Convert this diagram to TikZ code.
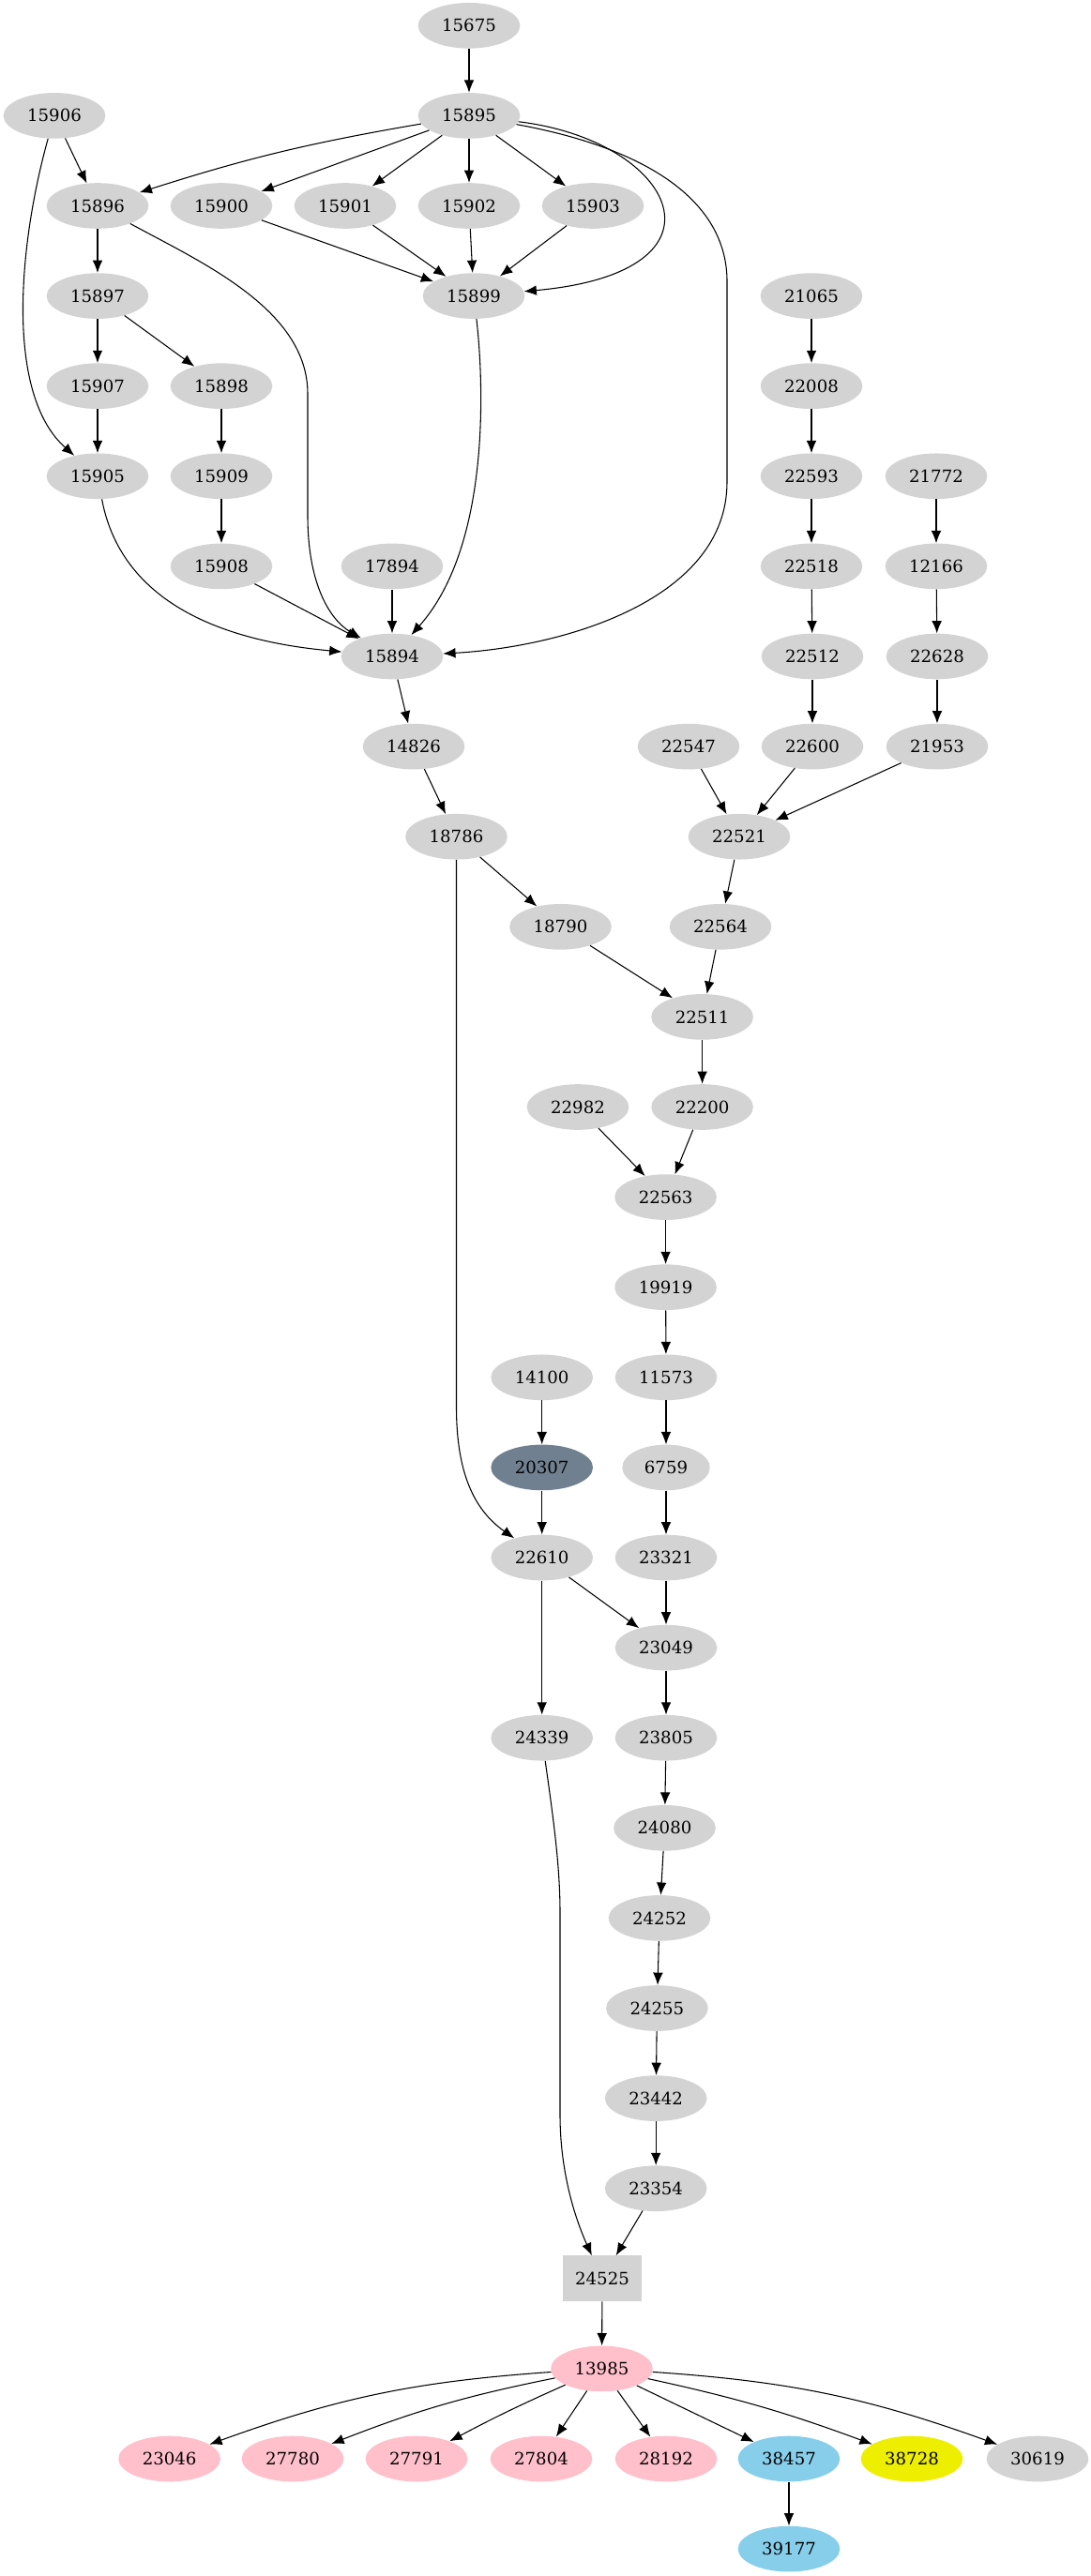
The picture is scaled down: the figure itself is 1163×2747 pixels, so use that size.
\documentclass[tikz,border=0pt]{standalone}
\usepackage{fontspec}
\setmainfont{DejaVu Serif}
\usetikzlibrary{shapes.geometric,arrows.meta}
\definecolor{ltgray}{HTML}{D3D3D3}
\definecolor{slgray}{HTML}{708090}
\definecolor{pinkish}{HTML}{FFC0CB}
\definecolor{skyish}{HTML}{87CEEB}
\definecolor{yellowish}{HTML}{EEEE00}
\tikzset{
  gnode/.style={ellipse,fill=ltgray,minimum width=81.5pt,minimum height=36.5pt,inner sep=0pt,font=\fontsize{13.6pt}{16pt}\selectfont},
  gshort/.style={gnode,minimum width=70pt},
  gbox/.style={rectangle,fill=ltgray,minimum width=63pt,minimum height=36.5pt,inner sep=0pt,font=\fontsize{13.6pt}{16pt}\selectfont},
  dep/.style={-{Latex[length=10pt,width=8pt]},line width=0.8pt}
}
\begin{document}
\begin{tikzpicture}[x=0.75pt,y=-0.75pt]
\useasboundingbox (0,0) rectangle (1163,2747);
\node[gnode] (n15675) at (500,27.3) {15675};
\node[gnode] (n15906) at (58,123.4) {15906};
\node[gnode] (n15895) at (500,123.4) {15895};
\node[gnode] (n15896) at (104,219.5) {15896};
\node[gnode] (n15900) at (236,219.5) {15900};
\node[gnode] (n15901) at (368,219.5) {15901};
\node[gnode] (n15902) at (500,219.5) {15902};
\node[gnode] (n15903) at (632,219.5) {15903};
\node[gnode] (n15897) at (104,315.6) {15897};
\node[gnode] (n15899) at (505,315.6) {15899};
\node[gnode] (n21065) at (865,315.6) {21065};
\node[gnode] (n15907) at (104,411.7) {15907};
\node[gnode] (n15898) at (236,411.7) {15898};
\node[gnode] (n22008) at (865,411.7) {22008};
\node[gnode] (n15905) at (104,507.8) {15905};
\node[gnode] (n15909) at (236,507.8) {15909};
\node[gnode] (n22593) at (865,507.8) {22593};
\node[gnode] (n21772) at (998,507.8) {21772};
\node[gnode] (n15908) at (236,603.9) {15908};
\node[gnode] (n17894) at (418,603.9) {17894};
\node[gnode] (n22518) at (865,603.9) {22518};
\node[gnode] (n12166) at (998,603.9) {12166};
\node[gnode] (n15894) at (418,700) {15894};
\node[gnode] (n22512) at (866,700) {22512};
\node[gnode] (n22628) at (999,700) {22628};
\node[gnode] (n14826) at (441,796.1) {14826};
\node[gnode] (n22547) at (734,796.1) {22547};
\node[gnode] (n22600) at (866,796.1) {22600};
\node[gnode] (n21953) at (999,796.1) {21953};
\node[gnode] (n18786) at (486.5,892.2) {18786};
\node[gnode] (n22521) at (788,892.2) {22521};
\node[gnode] (n18790) at (597.5,988.3) {18790};
\node[gnode] (n22564) at (768,988.3) {22564};
\node[gnode] (n22511) at (748.6,1084.4) {22511};
\node[gnode] (n22982) at (616,1180.5) {22982};
\node[gnode] (n22200) at (748.6,1180.5) {22200};
\node[gnode] (n22563) at (709.6,1276.6) {22563};
\node[gnode] (n19919) at (709.6,1372.7) {19919};
\node[gnode] (n14100) at (577.7,1468.8) {14100};
\node[gnode] (n11573) at (710,1468.8) {11573};
\node[gnode,fill=slgray] (n20307) at (577.7,1564.9) {20307};
\node[gshort] (n6759) at (710,1564.9) {6759};
\node[gnode] (n22610) at (577.7,1661) {22610};
\node[gnode] (n23321) at (710,1661) {23321};
\node[gnode] (n23049) at (710,1757.1) {23049};
\node[gnode] (n24339) at (577.7,1853.2) {24339};
\node[gnode] (n23805) at (710,1853.2) {23805};
\node[gnode] (n24080) at (708.5,1949.3) {24080};
\node[gnode] (n24252) at (703,2045.4) {24252};
\node[gnode] (n24255) at (700.4,2141.5) {24255};
\node[gnode] (n23442) at (699.2,2237.6) {23442};
\node[gnode] (n23354) at (699.2,2333.7) {23354};
\node[gbox] (n24525) at (642,2429.8) {24525};
\node[gnode,fill=pinkish] (n13985) at (641.5,2525.9) {13985};
\node[gnode,fill=pinkish] (n23046) at (180.6,2622) {23046};
\node[gnode,fill=pinkish] (n27780) at (312,2622) {27780};
\node[gnode,fill=pinkish] (n27791) at (444,2622) {27791};
\node[gnode,fill=pinkish] (n27804) at (577,2622) {27804};
\node[gnode,fill=pinkish] (n28192) at (710,2622) {28192};
\node[gnode,fill=skyish] (n38457) at (841,2622) {38457};
\node[gnode,fill=yellowish] (n38728) at (972,2622) {38728};
\node[gnode] (n30619) at (1106,2622) {30619};
\node[gnode,fill=skyish] (n39177) at (841,2718.1) {39177};
\draw[dep] (n15675) -- (n15895);
\draw[dep] (n15906) -- (n15896);
\draw[dep] (n15906) .. controls (20,260) and (5,420) .. (n15905);
\draw[dep] (n15895) to[bend right=4] (n15896);
\draw[dep] (n15895) -- (n15900);
\draw[dep] (n15895) -- (n15901);
\draw[dep] (n15895) -- (n15902);
\draw[dep] (n15895) -- (n15903);
\draw[dep] (n15895) .. controls (720,150) and (790,290) .. (n15899);
\draw[dep] (n15895) .. controls (700,160) and (775,220) .. (775,300) -- (775,514) .. controls (775,640) and (600,690) .. (n15894);
\draw[dep] (n15900) -- (n15899);
\draw[dep] (n15901) -- (n15899);
\draw[dep] (n15902) -- (n15899);
\draw[dep] (n15903) -- (n15899);
\draw[dep] (n15896) -- (n15897);
\draw[dep] (n15896) .. controls (215,280) and (328,330) .. (328,420) -- (328,550) .. controls (328,620) and (350,660) .. (n15894);
\draw[dep] (n15897) -- (n15907);
\draw[dep] (n15897) -- (n15898);
\draw[dep] (n15907) -- (n15905);
\draw[dep] (n15898) -- (n15909);
\draw[dep] (n15909) -- (n15908);
\draw[dep] (n15905) .. controls (125,620) and (200,680) .. (n15894);
\draw[dep] (n15908) -- (n15894);
\draw[dep] (n17894) -- (n15894);
\draw[dep] (n15899) .. controls (515,400) and (525,580) .. (n15894);
\draw[dep] (n21065) -- (n22008);
\draw[dep] (n22008) -- (n22593);
\draw[dep] (n22593) -- (n22518);
\draw[dep] (n22518) -- (n22512);
\draw[dep] (n22512) -- (n22600);
\draw[dep] (n21772) -- (n12166);
\draw[dep] (n12166) -- (n22628);
\draw[dep] (n22628) -- (n21953);
\draw[dep] (n15894) -- (n14826);
\draw[dep] (n14826) -- (n18786);
\draw[dep] (n22547) -- (n22521);
\draw[dep] (n22600) -- (n22521);
\draw[dep] (n21953) -- (n22521);
\draw[dep] (n18786) -- (n18790);
\draw[dep] (n18786) -- (486.5,1500) .. controls (486.5,1570) and (505,1610) .. (n22610);
\draw[dep] (n22521) -- (n22564);
\draw[dep] (n18790) -- (n22511);
\draw[dep] (n22564) -- (n22511);
\draw[dep] (n22511) -- (n22200);
\draw[dep] (n22982) -- (n22563);
\draw[dep] (n22200) -- (n22563);
\draw[dep] (n22563) -- (n19919);
\draw[dep] (n19919) -- (n11573);
\draw[dep] (n11573) -- (n6759);
\draw[dep] (n14100) -- (n20307);
\draw[dep] (n20307) -- (n22610);
\draw[dep] (n6759) -- (n23321);
\draw[dep] (n23321) -- (n23049);
\draw[dep] (n22610) -- (n23049);
\draw[dep] (n22610) -- (n24339);
\draw[dep] (n23049) -- (n23805);
\draw[dep] (n23805) -- (n24080);
\draw[dep] (n24080) -- (n24252);
\draw[dep] (n24252) -- (n24255);
\draw[dep] (n24255) -- (n23442);
\draw[dep] (n23442) -- (n23354);
\draw[dep] (n24339) .. controls (590,1940) and (597,1990) .. (597,2040) -- (597,2255) .. controls (597,2320) and (615,2370) .. (n24525);
\draw[dep] (n23354) -- (n24525);
\draw[dep] (n24525) -- (n13985);
\draw[dep] (n13985) to[bend right=8] (n23046);
\draw[dep] (n13985) to[bend right=5] (n27780);
\draw[dep] (n13985) to[bend right=2] (n27791);
\draw[dep] (n13985) -- (n27804);
\draw[dep] (n13985) -- (n28192);
\draw[dep] (n13985) -- (n38457);
\draw[dep] (n13985) to[bend left=4] (n38728);
\draw[dep] (n13985) to[bend left=8] (n30619);
\draw[dep] (n38457) -- (n39177);
\end{tikzpicture}
\end{document}
